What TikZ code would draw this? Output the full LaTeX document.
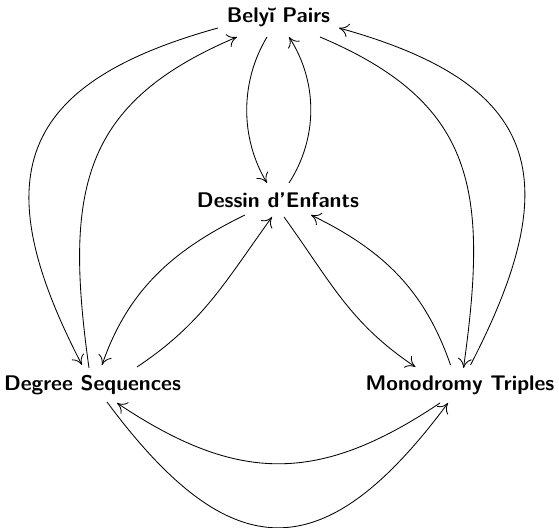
\documentclass[tikz,border=0pt]{standalone}
\usetikzlibrary{arrows.meta}
\begin{document}
\begin{tikzpicture}[x=0.472pt,y=0.472pt,
  lbl/.style={font=\sffamily\bfseries, inner sep=0pt},
  edge/.style={-{To[length=4.5pt,width=6.5pt]}, line width=0.4pt}]
\useasboundingbox (0,0) rectangle (559,528);
\node[lbl] (b) at (278.5,511) {Belyĭ Pairs};
\node[lbl] (d) at (278,328) {Dessin d'Enfants};
\node[lbl] (g) at (92.5,143) {Degree Sequences};
\node[lbl] (m) at (460,143) {Monodromy Triples};
% Belyi <-> Dessin
\draw[edge] ([shift={(-11.5,-20)}]b.center) .. controls +(-27,-45) and +(-27,45) .. ([shift={(-11,17)}]d.center);
\draw[edge] ([shift={(11,17)}]d.center) .. controls +(29,45) and +(29,-45) .. ([shift={(10.5,-20)}]b.center);
% Belyi <-> Degree
\draw[edge] ([shift={(-60.5,-11)}]b.center) .. controls +(-202,-56) and +(-97,187) .. ([shift={(-10.5,20)}]g.center);
\draw[edge] ([shift={(-3.5,17)}]g.center) .. controls +(-25,178) and +(-156,-66) .. ([shift={(-41.5,-20)}]b.center);
% Belyi <-> Monodromy
\draw[edge] ([shift={(41.5,-20)}]b.center) .. controls +(156,-66) and +(25,178) .. ([shift={(3.5,17)}]m.center);
\draw[edge] ([shift={(10.5,20)}]m.center) .. controls +(97,187) and +(202,-56) .. ([shift={(60.5,-11)}]b.center);
% Dessin <-> Degree
\draw[edge] ([shift={(-33,-15)}]d.center) .. controls +(-72,-35) and +(26,75) .. ([shift={(9.5,20)}]g.center);
\draw[edge] ([shift={(44.5,18)}]g.center) .. controls +(66,44) and +(-47,-65) .. ([shift={(-6,-17)}]d.center);
% Dessin <-> Monodromy
\draw[edge] ([shift={(6,-17)}]d.center) .. controls +(47,-65) and +(-66,44) .. ([shift={(-44.5,18)}]m.center);
\draw[edge] ([shift={(-9.5,20)}]m.center) .. controls +(-26,75) and +(72,-35) .. ([shift={(33,-15)}]d.center);
% Degree <-> Monodromy
\draw[edge] ([shift={(-20,-18)}]m.center) .. controls +(-121,-81) and +(121,-81) .. ([shift={(24.5,-18)}]g.center);
\draw[edge] ([shift={(14.5,-17)}]g.center) .. controls +(124,-167) and +(-124,-167) .. ([shift={(-12,-18)}]m.center);
\end{tikzpicture}
\end{document}
